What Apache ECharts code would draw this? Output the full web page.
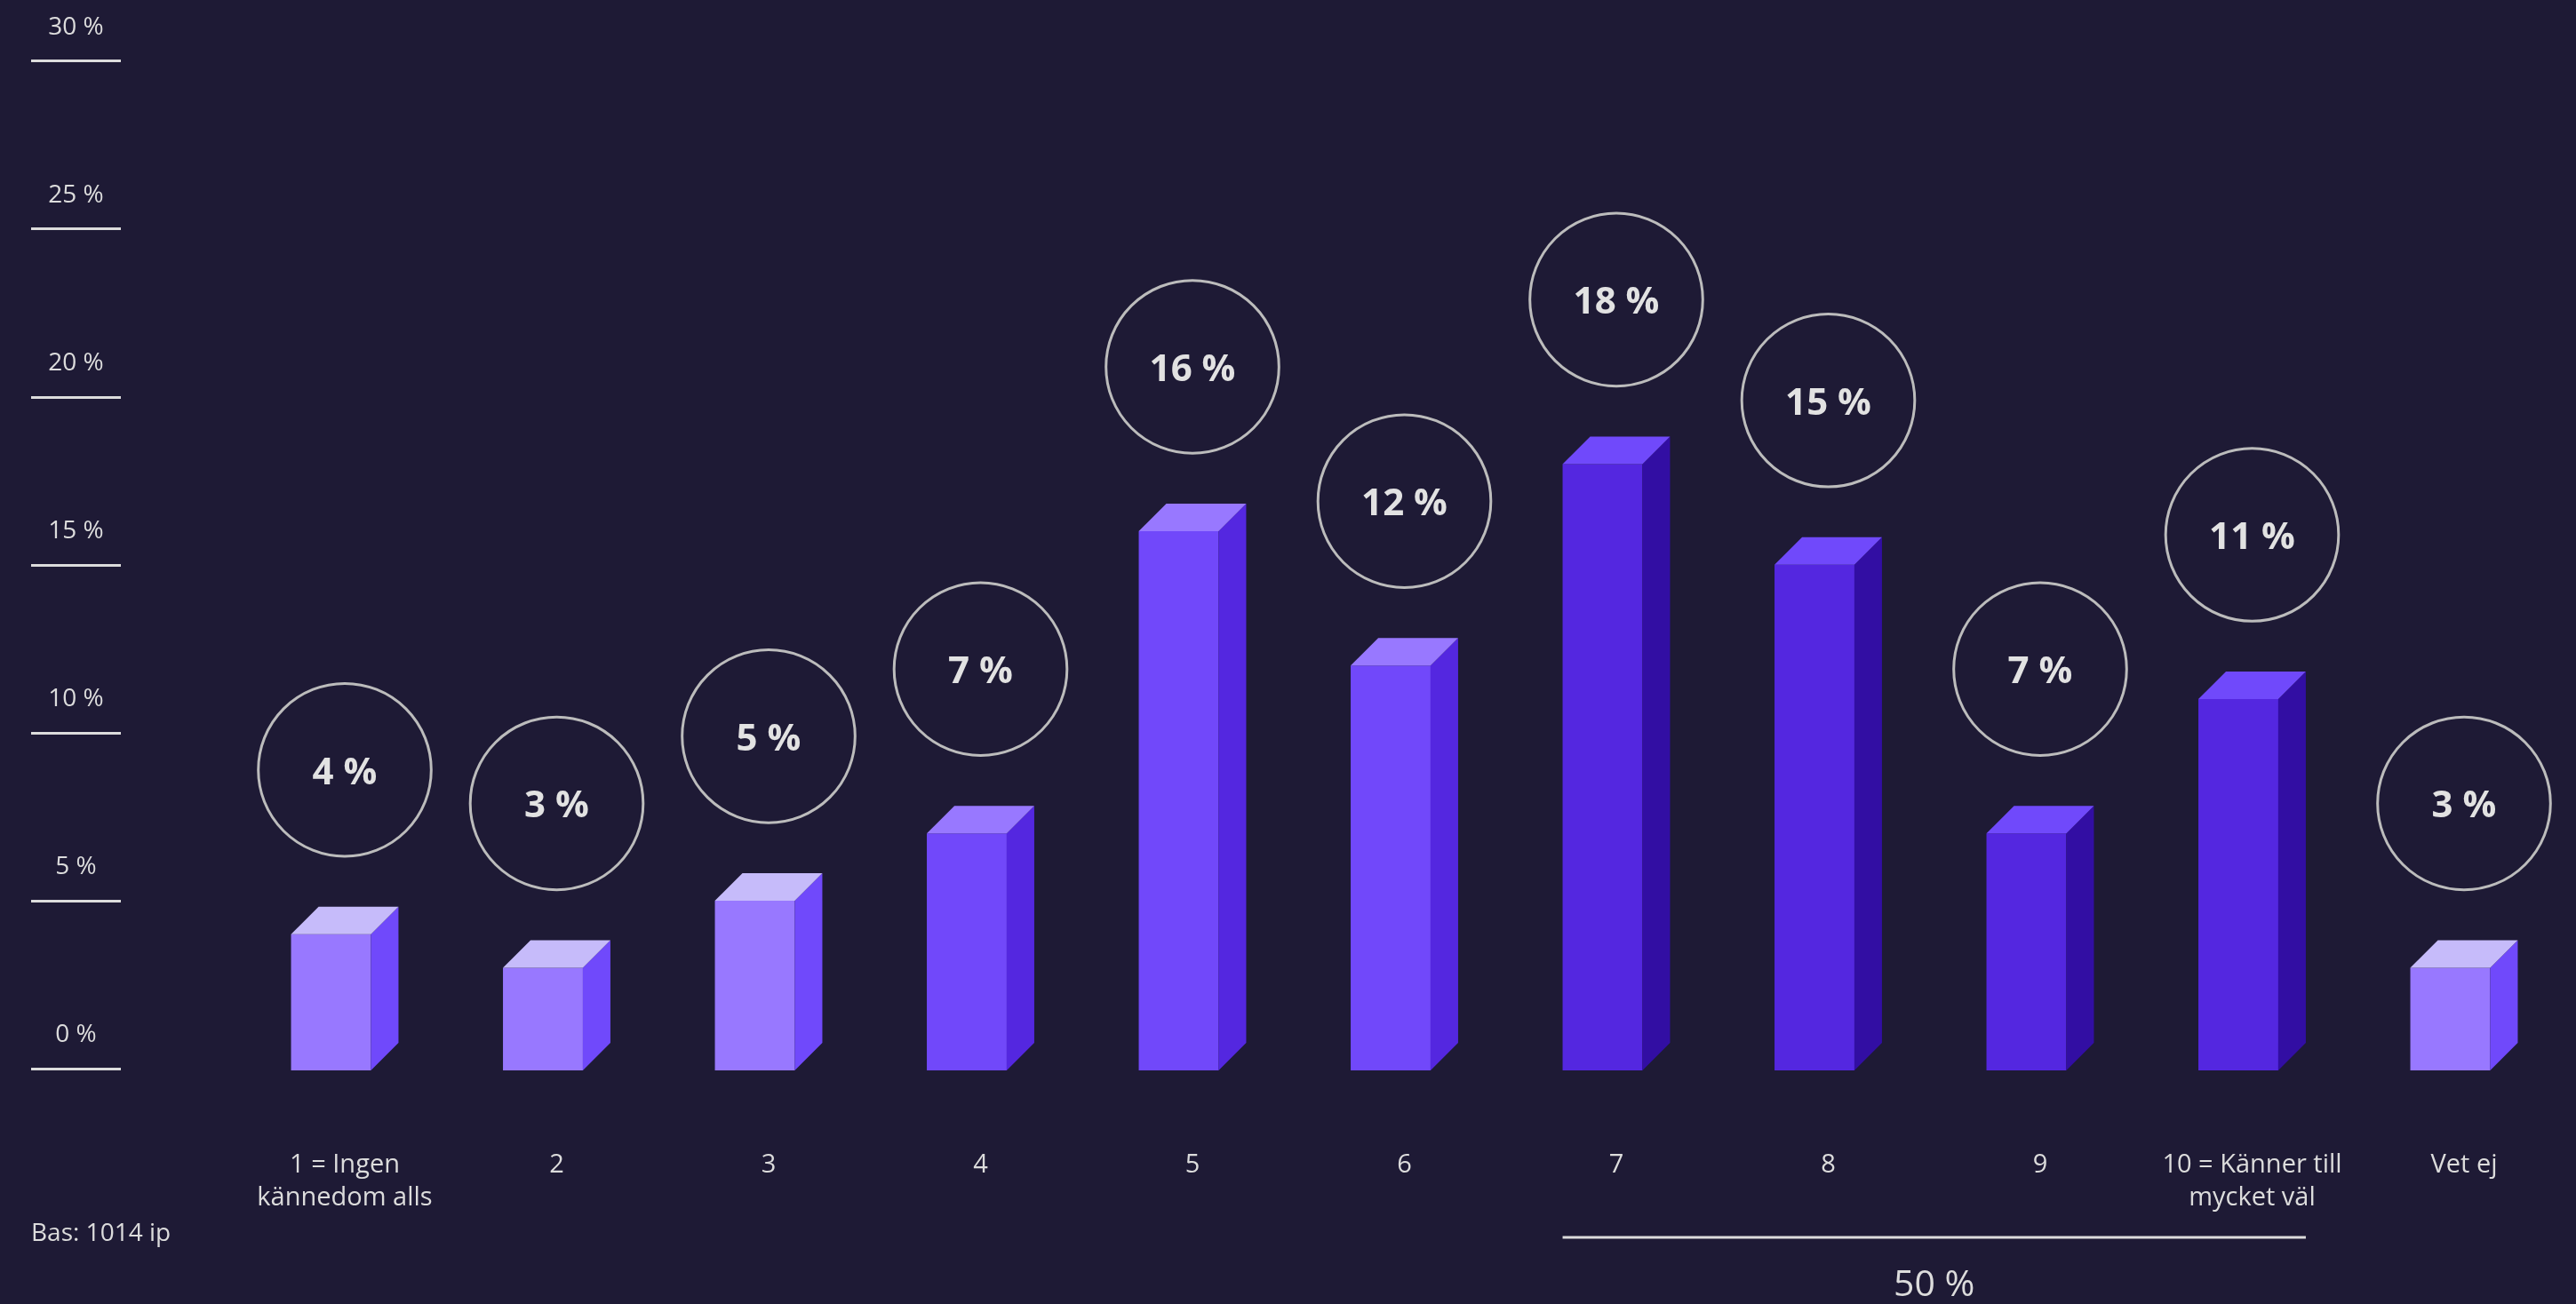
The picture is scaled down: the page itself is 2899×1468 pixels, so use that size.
<!DOCTYPE html>
<html>
<head>
<meta charset="utf-8">
<script src="https://cdn.jsdelivr.net/npm/echarts@6/dist/echarts.min.js"></script>
<style>
  html, body { margin: 0; padding: 0; background: #1e1a35; }
  #chart { width: 2899px; height: 1468px; }
</style>
</head>
<body>
<div id="chart"></div>
<script>
// Awareness scale, share of respondents (%)
const categories = ['1 = Ingen\nkännedom alls', '2', '3', '4', '5', '6', '7', '8', '9', '10 = Känner till\nmycket väl', 'Vet ej'];
const shares = [4, 3, 5, 7, 16, 12, 18, 15, 7, 11, 3];
// colour tier per category: 0 = low end / don't know, 1 = middle, 2 = high end
const tiers = [0, 0, 0, 1, 1, 1, 2, 2, 2, 2, 0];
const yTicks = [0, 5, 10, 15, 20, 25, 30];
const baseText = 'Bas: 1014 ip';
// summary bracket over the top of the scale
const bracketFrom = 6, bracketTo = 9, bracketShare = 50;

const palette = [
  { face: '#9878ff', top: '#c6bbfa', side: '#7049fb' },
  { face: '#7148fa', top: '#9878ff', side: '#5427e0' },
  { face: '#5427e0', top: '#7049fb', side: '#320ea3' }
];
const textColor = '#dcdcdc';
const fontFamily = '"Open Sans", "Noto Sans", sans-serif';

const chart = echarts.init(document.getElementById('chart'), null, { renderer: 'canvas' });

function renderBox(params, api) {
  const i = api.value(0);
  const v = api.value(1);
  const band = api.size([1, 0])[0];
  const faceW = band * 0.377;
  const depth = band * 0.13;
  const top = api.coord([i, v]);
  const bottom = api.coord([i, 0]);
  const c = top[0];
  const left = c - (faceW + depth) / 2;
  const right = left + faceW;
  const yT = top[1];
  const yB = bottom[1] + 2;
  const col = palette[tiers[i]];
  const r = band * 0.408;
  const cy = yT - band * 0.776;
  return {
    type: 'group',
    children: [
      { type: 'rect', shape: { x: left, y: yT, width: faceW, height: yB - yT }, style: { fill: col.face } },
      { type: 'polygon', shape: { points: [[right, yT], [right + depth, yT - depth], [right + depth, yB - depth], [right, yB]] }, style: { fill: col.side } },
      { type: 'polygon', shape: { points: [[left, yT], [left + depth, yT - depth], [right + depth, yT - depth], [right, yT]] }, style: { fill: col.top } },
      { type: 'circle', shape: { cx: c, cy: cy, r: r }, style: { fill: 'none', stroke: '#bcbcbc', lineWidth: 3 } },
      { type: 'text', x: c, y: cy + 4, style: { text: v + ' %', fill: '#e2e2e2', font: 'bold 42px ' + fontFamily, align: 'center', verticalAlign: 'middle' } }
    ]
  };
}

function renderBracket(params, api) {
  const band = api.size([1, 0])[0];
  const faceW = band * 0.377;
  const depth = band * 0.13;
  const a = api.coord([api.value(0), 0]);
  const b = api.coord([api.value(1), 0]);
  const x1 = a[0] - (faceW + depth) / 2;
  const x2 = b[0] + (faceW + depth) / 2;
  const y = a[1] + 190;
  return {
    type: 'group',
    children: [
      { type: 'line', shape: { x1: x1, y1: y, x2: x2, y2: y }, style: { stroke: '#dcdcdc', lineWidth: 3 } },
      { type: 'text', x: (x1 + x2) / 2, y: y + 54, style: { text: api.value(2) + ' %', fill: textColor, font: '41px ' + fontFamily, align: 'center', verticalAlign: 'middle' } }
    ]
  };
}

chart.setOption({
  backgroundColor: '#1e1a35',
  animation: false,
  grid: [
    { left: 268.75, right: 6.75, top: 68.7, bottom: 265, outerBoundsMode: 'none' },
    { left: 35, width: 101, top: 68.7, bottom: 265, outerBoundsMode: 'none' }
  ],
  xAxis: [
    {
      gridIndex: 0, type: 'category', data: categories,
      axisLine: { show: false }, axisTick: { show: false }, splitLine: { show: false },
      axisLabel: { color: textColor, fontSize: 29, fontFamily: fontFamily, lineHeight: 37, margin: 90, interval: 0 }
    },
    { gridIndex: 1, type: 'value', min: 0, max: 1, show: false }
  ],
  yAxis: [
    { gridIndex: 0, type: 'value', min: 0, max: 30, interval: 5, show: false },
    {
      gridIndex: 1, type: 'value', min: 0, max: 30, interval: 5,
      axisLine: { show: false }, axisTick: { show: false },
      splitLine: { show: true, lineStyle: { color: '#dcdcdc', width: 3 } },
      axisLabel: {
        color: textColor, fontSize: 28, fontFamily: fontFamily,
        formatter: v => yTicks.includes(v) ? v + ' %' : '',
        align: 'center', verticalAlign: 'bottom', lineHeight: 76, margin: -50.5
      }
    }
  ],
  graphic: [
    { type: 'text', left: 35, top: 1375, style: { text: baseText, fill: textColor, font: '28px ' + fontFamily } }
  ],
  series: [
    {
      type: 'custom', xAxisIndex: 0, yAxisIndex: 0, clip: false,
      renderItem: renderBox,
      data: shares.map((v, i) => [i, v])
    },
    {
      type: 'custom', xAxisIndex: 0, yAxisIndex: 0, clip: false,
      renderItem: renderBracket,
      data: [[bracketFrom, bracketTo, bracketShare]]
    },
    { type: 'line', xAxisIndex: 1, yAxisIndex: 1, data: [], silent: true }
  ]
});
</script>
</body>
</html>
